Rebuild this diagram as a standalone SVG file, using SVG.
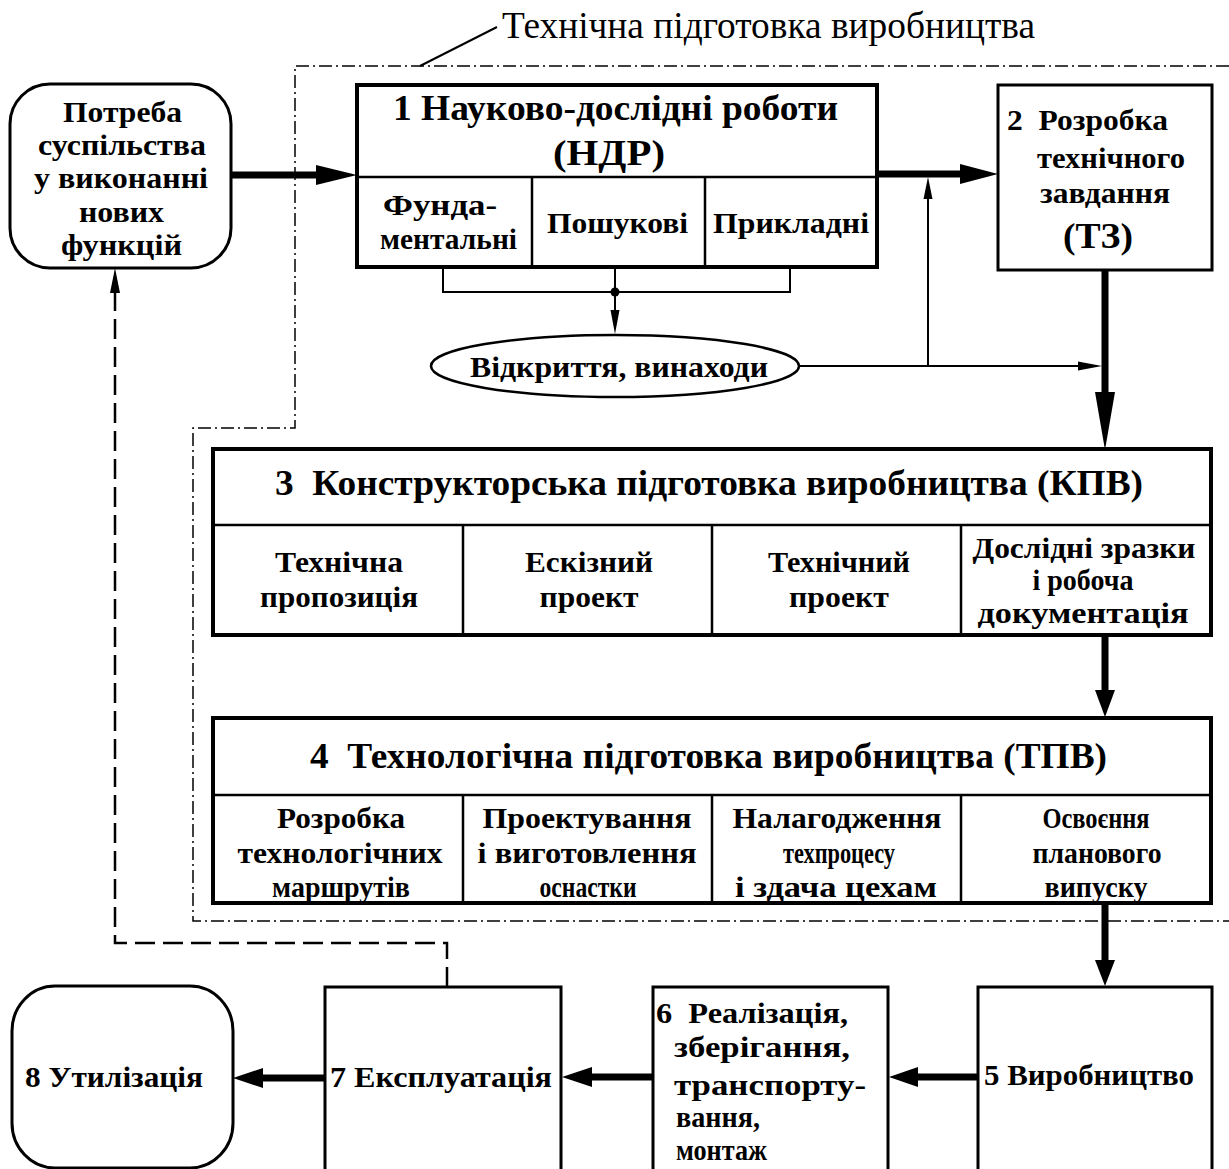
<svg xmlns="http://www.w3.org/2000/svg" width="1229" height="1169" viewBox="0 0 1229 1169">
<style>
text{font-family:"Liberation Serif","Times New Roman",serif;fill:#000}
.b{font-weight:bold;font-size:30px}
.s{font-weight:bold;font-size:29px}
.t{font-weight:bold;font-size:36px}
.n{font-size:37px}
.box{fill:#fff;stroke:#000;stroke-width:3}
.bx4{fill:#fff;stroke:#000;stroke-width:4}
.div{stroke:#000;stroke-width:2.5;fill:none}
.thin{stroke:#000;stroke-width:2;fill:none}
.thick{stroke:#000;stroke-width:7;fill:none}
.head{fill:#000;stroke:none}
.dd{fill:none;stroke:#000;stroke-width:1.5;stroke-dasharray:13 4 2 4}
.dash{fill:none;stroke:#000;stroke-width:2.5;stroke-dasharray:20 8}
</style>
<rect width="1229" height="1169" fill="#fff"/>

<g id="boundary">
  <path class="dd" d="M1229,66 H295 V428 H193 V921 H1229"/>
  <line class="thin" x1="420" y1="66" x2="497" y2="27" stroke-width="1.5"/>
  <text class="n" x="502" y="38" textLength="533" lengthAdjust="spacingAndGlyphs">Технічна підготовка виробництва</text>
</g>

<g id="connectors">
  <line class="thick" x1="231" y1="175" x2="320" y2="175"/>
  <polygon class="head" points="357,175 316,165 316,185"/>
  <line class="thick" x1="877" y1="174" x2="962" y2="174"/>
  <polygon class="head" points="998,174 960,164 960,184"/>
  <path class="thin" d="M443,267 V292 H790 V267 M615,267 V312"/>
  <circle cx="615" cy="292" r="4.5" fill="#000"/>
  <polygon class="head" points="615,334 610.5,310 619.5,310"/>
  <line class="thin" x1="799" y1="366" x2="1082" y2="366"/>
  <polygon class="head" points="1102,366 1078,361.5 1078,370.5"/>
  <line class="thin" x1="928" y1="366" x2="928" y2="196"/>
  <polygon class="head" points="928,177 923.5,199 932.5,199"/>
  <line class="thick" x1="1105" y1="270" x2="1105" y2="396"/>
  <polygon class="head" points="1105,450 1095,392 1115,392"/>
  <line class="thick" x1="1105" y1="635" x2="1105" y2="694"/>
  <polygon class="head" points="1105,717 1095,690 1115,690"/>
  <line class="thick" x1="1105" y1="903" x2="1105" y2="964"/>
  <polygon class="head" points="1105,986 1095,960 1115,960"/>
  <line class="thick" x1="978" y1="1077" x2="914" y2="1077"/>
  <polygon class="head" points="889,1077 918,1067 918,1087"/>
  <line class="thick" x1="653" y1="1077" x2="588" y2="1077"/>
  <polygon class="head" points="562,1077 592,1067 592,1087"/>
  <line class="thick" x1="325" y1="1078" x2="259" y2="1078"/>
  <polygon class="head" points="233,1078 263,1068 263,1088"/>
  <path class="dash" d="M447,987 V943 H115 V292"/>
  <polygon class="head" points="115,268 110,293 120,293"/>
</g>

<g id="node-need">
  <rect class="box" x="10" y="84" width="221" height="184" rx="40" ry="40"/>
  <text class="b" x="63" y="122" textLength="119" lengthAdjust="spacingAndGlyphs">Потреба</text>
  <text class="b" x="38" y="155" textLength="168" lengthAdjust="spacingAndGlyphs">суспільства</text>
  <text class="b" x="34" y="188" textLength="174" lengthAdjust="spacingAndGlyphs">у виконанні</text>
  <text class="b" x="79" y="222" textLength="85" lengthAdjust="spacingAndGlyphs">нових</text>
  <text class="b" x="61" y="255" textLength="121" lengthAdjust="spacingAndGlyphs">функцій</text>
</g>

<g id="node-ndr">
  <rect class="bx4" x="357" y="85" width="520" height="182"/>
  <path class="div" d="M357,177 H877 M532,177 V267 M705,177 V267"/>
  <text class="t" x="393" y="120" textLength="445" lengthAdjust="spacingAndGlyphs">1 Науково-дослідні роботи</text>
  <text class="t" x="553" y="165" textLength="112" lengthAdjust="spacingAndGlyphs">(НДР)</text>
  <text class="b" x="383" y="215" textLength="114" lengthAdjust="spacingAndGlyphs">Фунда-</text>
  <text class="b" x="380" y="249" textLength="137" lengthAdjust="spacingAndGlyphs">ментальні</text>
  <text class="b" x="547" y="233" textLength="141" lengthAdjust="spacingAndGlyphs">Пошукові</text>
  <text class="b" x="713" y="233" textLength="156" lengthAdjust="spacingAndGlyphs">Прикладні</text>
</g>

<g id="node-discoveries">
  <ellipse cx="615" cy="366" rx="184" ry="31" fill="#fff" stroke="#000" stroke-width="2.5"/>
  <text class="b" x="470" y="377" textLength="298" lengthAdjust="spacingAndGlyphs">Відкриття, винаходи</text>
</g>

<g id="node-tz">
  <rect class="box" x="998" y="85" width="214" height="185"/>
  <text class="b" x="1007" y="130" textLength="161" lengthAdjust="spacingAndGlyphs">2&#160; Розробка</text>
  <text class="b" x="1037" y="168" textLength="148" lengthAdjust="spacingAndGlyphs">технічного</text>
  <text class="b" x="1040" y="203" textLength="130" lengthAdjust="spacingAndGlyphs">завдання</text>
  <text class="t" x="1063" y="248" textLength="70" lengthAdjust="spacingAndGlyphs">(ТЗ)</text>
</g>

<g id="node-kpv">
  <rect class="bx4" x="213" y="449" width="998" height="186" stroke-width="5"/>
  <path class="div" d="M213,525 H1211 M463,525 V635 M712,525 V635 M961,525 V635"/>
  <text class="t" x="275" y="495" textLength="868" lengthAdjust="spacingAndGlyphs">3&#160; Конструкторська підготовка виробництва (КПВ)</text>
  <g class="s" text-anchor="middle">
    <text x="339" y="572" textLength="128" lengthAdjust="spacingAndGlyphs">Технічна</text>
    <text x="339" y="607" textLength="158" lengthAdjust="spacingAndGlyphs">пропозиція</text>
    <text x="589" y="572" textLength="128" lengthAdjust="spacingAndGlyphs">Ескізний</text>
    <text x="589" y="607" textLength="99" lengthAdjust="spacingAndGlyphs">проект</text>
    <text x="839" y="572" textLength="142" lengthAdjust="spacingAndGlyphs">Технічний</text>
    <text x="839" y="607" textLength="100" lengthAdjust="spacingAndGlyphs">проект</text>
    <text x="1084" y="558" textLength="223" lengthAdjust="spacingAndGlyphs">Дослідні зразки</text>
    <text x="1083" y="590" textLength="101" lengthAdjust="spacingAndGlyphs">і робоча</text>
    <text x="1083" y="623" textLength="211" lengthAdjust="spacingAndGlyphs">документація</text>
  </g>
</g>

<g id="node-tpv">
  <rect class="bx4" x="213" y="718" width="998" height="185" stroke-width="5"/>
  <path class="div" d="M213,795 H1211 M463,795 V903 M712,795 V903 M961,795 V903"/>
  <text class="t" x="310" y="768" textLength="797" lengthAdjust="spacingAndGlyphs">4&#160; Технологічна підготовка виробництва (ТПВ)</text>
  <g class="b" text-anchor="middle">
    <text x="341" y="828" textLength="128" lengthAdjust="spacingAndGlyphs">Розробка</text>
    <text x="340" y="863" textLength="205" lengthAdjust="spacingAndGlyphs">технологічних</text>
    <text x="341" y="897" textLength="138" lengthAdjust="spacingAndGlyphs">маршрутів</text>
    <text x="587" y="828" textLength="209" lengthAdjust="spacingAndGlyphs">Проектування</text>
    <text x="587" y="863" textLength="219" lengthAdjust="spacingAndGlyphs">і виготовлення</text>
    <text x="588" y="897" textLength="97" lengthAdjust="spacingAndGlyphs">оснастки</text>
    <text x="837" y="828" textLength="209" lengthAdjust="spacingAndGlyphs">Налагодження</text>
    <text x="839" y="863" textLength="112" lengthAdjust="spacingAndGlyphs">техпроцесу</text>
    <text x="836" y="897" textLength="202" lengthAdjust="spacingAndGlyphs">і здача цехам</text>
    <text x="1096" y="828" textLength="107" lengthAdjust="spacingAndGlyphs">Освоєння</text>
    <text x="1097" y="863" textLength="129" lengthAdjust="spacingAndGlyphs">планового</text>
    <text x="1096" y="897" textLength="103" lengthAdjust="spacingAndGlyphs">випуску</text>
  </g>
</g>

<g id="node-5">
  <rect class="box" x="978" y="987" width="234" height="200"/>
  <text class="b" x="984" y="1085" textLength="210" lengthAdjust="spacingAndGlyphs">5 Виробництво</text>
</g>

<g id="node-6">
  <rect class="box" x="653" y="987" width="235" height="200"/>
  <text class="b" x="656" y="1023" textLength="192" lengthAdjust="spacingAndGlyphs">6&#160; Реалізація,</text>
  <text class="b" x="674" y="1057" textLength="176" lengthAdjust="spacingAndGlyphs">зберігання,</text>
  <text class="b" x="674" y="1095" textLength="192" lengthAdjust="spacingAndGlyphs">транспорту-</text>
  <text class="b" x="676" y="1127" textLength="84" lengthAdjust="spacingAndGlyphs">вання,</text>
  <text class="b" x="676" y="1160" textLength="91" lengthAdjust="spacingAndGlyphs">монтаж</text>
</g>

<g id="node-7">
  <rect class="box" x="325" y="987" width="236" height="200"/>
  <text class="b" x="330" y="1087" textLength="222" lengthAdjust="spacingAndGlyphs">7 Експлуатація</text>
</g>

<g id="node-8">
  <rect class="box" x="12" y="986" width="221" height="182" rx="43" ry="45"/>
  <text class="b" x="25" y="1087" textLength="178" lengthAdjust="spacingAndGlyphs">8 Утилізація</text>
</g>
</svg>
